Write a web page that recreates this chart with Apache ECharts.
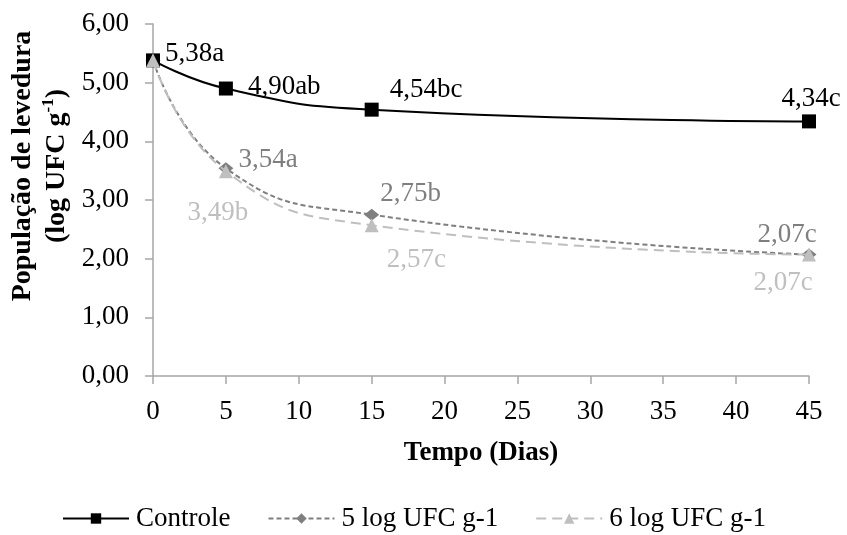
<!DOCTYPE html>
<html>
<head>
<meta charset="utf-8">
<script src="https://cdn.jsdelivr.net/npm/echarts@6/dist/echarts.min.js"></script>
<style>
  html, body { margin: 0; padding: 0; background: #fff; }
  #chart { width: 847px; height: 535px; }
</style>
</head>
<body>
<div id="chart"></div>
<script>
// Yeast population (log CFU/g) over storage time
const days = [0, 5, 15, 45];
const controle = [5.38, 4.90, 4.54, 4.34];
const log5 = [5.38, 3.54, 2.75, 2.07];
const log6 = [5.38, 3.49, 2.57, 2.07];
const controleLetters = ['a', 'ab', 'bc', 'c'];
const log5Letters = ['', 'a', 'b', 'c'];
const log6Letters = ['', 'b', 'c', 'c'];
const yTicks = [0, 1, 2, 3, 4, 5, 6];
const xTicks = [0, 5, 10, 15, 20, 25, 30, 35, 40, 45];

const FONT = '"Liberation Serif", "Times New Roman", serif';
const FS = 27;
const fmt = v => v.toFixed(2).replace('.', ',');

// per-point label placement for each series
const ctrlLabelPos = [
  { position: 'right', offset: [0, -6] },
  { position: 'right', offset: [10, -2] },
  { position: 'right', offset: [6, -20] },
  { position: 'top', offset: [2, 3] }
];
const log5LabelPos = [
  null,
  { position: 'right', offset: [0, -8] },
  { position: 'right', offset: [-4, -21] },
  { position: 'top', offset: [-22, 5] }
];
const log6LabelPos = [
  null,
  { position: 'bottom', offset: [-8, 16] },
  { position: 'right', offset: [3, 35] },
  { position: 'bottom', offset: [-26, 3] }
];

function buildData(values, letters, placement, color) {
  return days.map((d, i) => {
    const item = { value: [d, values[i]] };
    const p = placement[i];
    if (p) {
      item.label = {
        show: true,
        position: p.position,
        offset: p.offset,
        formatter: fmt(values[i]) + letters[i],
        color: color,
        fontFamily: FONT,
        fontSize: FS
      };
    } else {
      item.label = { show: false };
    }
    return item;
  });
}

const chart = echarts.init(document.getElementById('chart'), null, { renderer: 'canvas' });

chart.setOption({
  animation: false,
  backgroundColor: '#ffffff',
  grid: { left: 153, right: 38, top: 24, bottom: 159, containLabel: false, outerBoundsMode: 'none' },
  legend: {
    top: 500,
    left: 57,
    itemWidth: 66,
    itemHeight: 13,
    itemGap: 37,
    textStyle: { fontFamily: FONT, fontSize: FS, color: '#000', padding: [0, 0, 0, 2] },
    data: ['Controle', '5 log UFC g-1', '6 log UFC g-1']
  },
  // vertical axis title, two lines with a superscript exponent
  graphic: [{
    type: 'text',
    x: 40,
    y: 166,
    rotation: Math.PI / 2,
    style: {
      text: '{t|População de levedura}\n{t|(log UFC g}{s|-1}{t|)}',
      align: 'center',
      verticalAlign: 'middle',
      fill: '#000',
      rich: {
        t: { fontFamily: FONT, fontSize: 28, fontWeight: 'bold', fill: '#000', lineHeight: 34 },
        s: { fontFamily: FONT, fontSize: 17, fontWeight: 'bold', fill: '#000', verticalAlign: 'top', lineHeight: 34, padding: [0, 0, 12, 0] }
      }
    }
  }],
  xAxis: {
    type: 'value',
    min: xTicks[0],
    max: xTicks[xTicks.length - 1],
    interval: 5,
    name: 'Tempo (Dias)',
    nameLocation: 'middle',
    nameGap: 64,
    nameTextStyle: { fontFamily: FONT, fontSize: FS, fontWeight: 'bold', color: '#000' },
    axisLine: { show: true, lineStyle: { color: '#a6a6a6', width: 1.5 } },
    axisTick: { show: true, length: 8, lineStyle: { color: '#a6a6a6', width: 1.5 } },
    axisLabel: { fontFamily: FONT, fontSize: FS, color: '#000', margin: 22 },
    splitLine: { show: false }
  },
  yAxis: {
    type: 'value',
    min: yTicks[0],
    max: yTicks[yTicks.length - 1],
    interval: 1,
    axisLine: { show: true, lineStyle: { color: '#a6a6a6', width: 1.5 } },
    axisTick: { show: true, length: 8, lineStyle: { color: '#a6a6a6', width: 1.5 } },
    axisLabel: { fontFamily: FONT, fontSize: FS, color: '#000', margin: 24, formatter: fmt },
    splitLine: { show: false }
  },
  series: [
    {
      name: 'Controle',
      type: 'line',
      smooth: true,
      symbol: 'rect',
      symbolSize: 14,
      itemStyle: { color: '#000' },
      lineStyle: { color: '#000', width: 2 },
      data: buildData(controle, controleLetters, ctrlLabelPos, '#000'),
      z: 3
    },
    {
      name: '5 log UFC g-1',
      type: 'line',
      smooth: true,
      symbol: 'diamond',
      symbolSize: [15, 12],
      itemStyle: { color: '#7f7f7f' },
      lineStyle: { color: '#7f7f7f', width: 2, type: [5, 3] },
      data: buildData(log5, log5Letters, log5LabelPos, '#7f7f7f'),
      z: 2
    },
    {
      name: '6 log UFC g-1',
      type: 'line',
      smooth: true,
      symbol: 'triangle',
      symbolSize: 14,
      itemStyle: { color: '#bfbfbf' },
      lineStyle: { color: '#bfbfbf', width: 2, type: [10, 6] },
      data: buildData(log6, log6Letters, log6LabelPos, '#bfbfbf'),
      z: 4
    }
  ]
});
</script>
</body>
</html>
